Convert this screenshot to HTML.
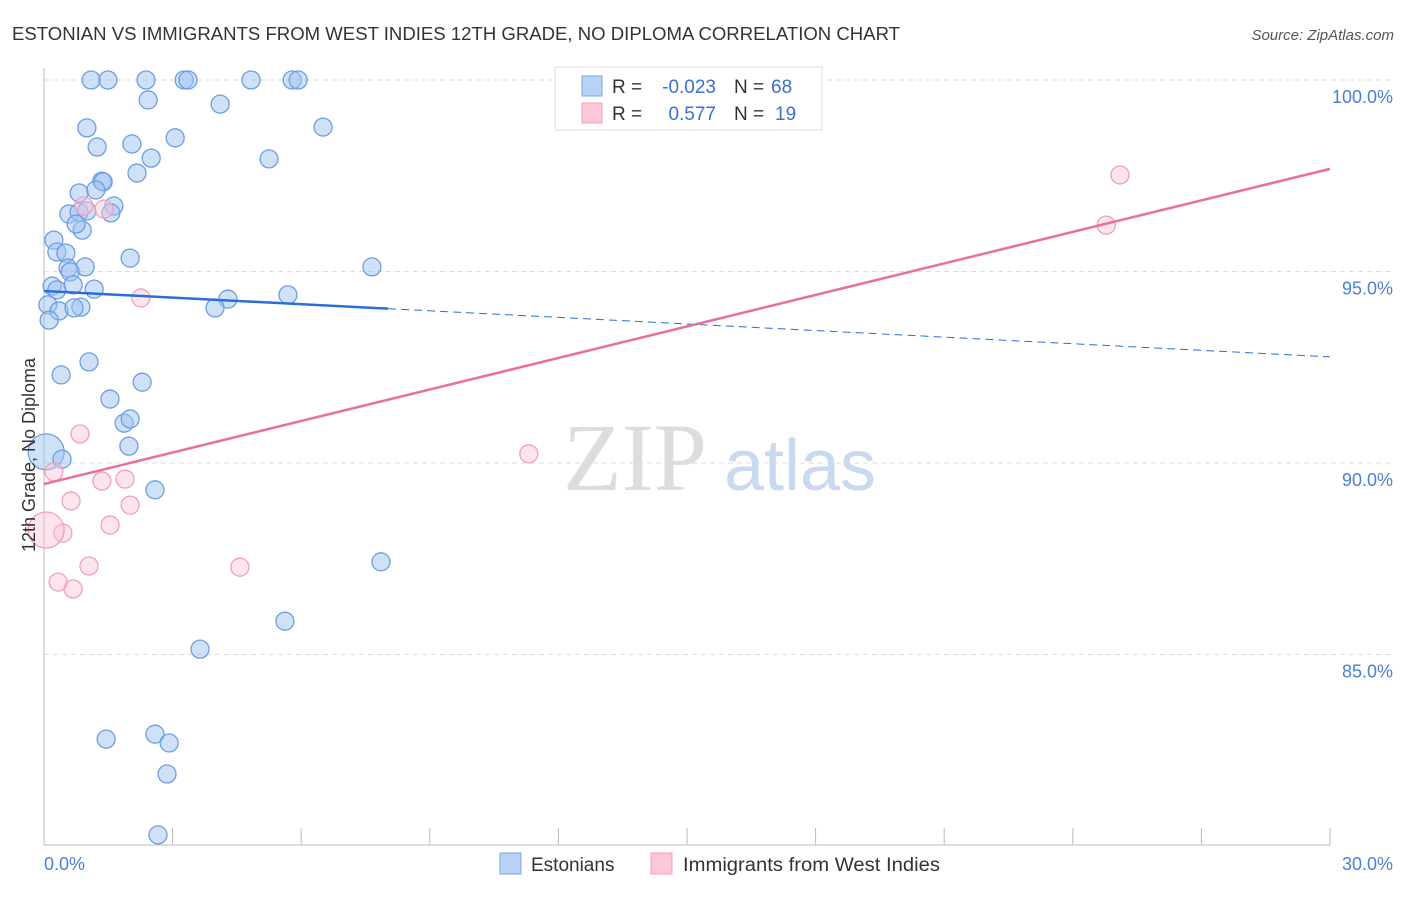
<!DOCTYPE html>
<html><head><meta charset="utf-8"><style>
body{margin:0;background:#fff;font-family:"Liberation Sans",sans-serif}
</style></head><body>
<svg width="1406" height="892" xmlns="http://www.w3.org/2000/svg">
<text x="12" y="40" font-size="18" fill="#333" textLength="888" lengthAdjust="spacingAndGlyphs">ESTONIAN VS IMMIGRANTS FROM WEST INDIES 12TH GRADE, NO DIPLOMA CORRELATION CHART</text>
<text x="1394" y="40" font-size="15" fill="#555" font-style="italic" text-anchor="end">Source: ZipAtlas.com</text>
<g id="grid"></g>
<text x="635" y="490" font-size="96" fill="#ddd" text-anchor="middle" font-family="Liberation Serif,serif">ZIP</text>
<text x="800" y="490" font-size="72" fill="#c8d9f0" text-anchor="middle">atlas</text>
<g id="pts"></g>
<g id="trend"></g>
<text transform="translate(35,455) rotate(-90)" font-size="18" fill="#333" text-anchor="middle">12th Grade, No Diploma</text>
<text x="44" y="870" font-size="18" fill="#4a7fd8">0.0%</text>
<text x="1393" y="870" font-size="18" fill="#4a7fd8" text-anchor="end">30.0%</text>
<g>
<rect x="555" y="67" width="267" height="63" fill="#fff" stroke="#ddd"/>
<rect x="582" y="76" width="20" height="20" fill="#b8d2f5" stroke="#7aa6e6"/>
<rect x="582" y="103" width="20" height="20" fill="#fcc8d8" stroke="#f0a0bb"/>
<text x="612" y="93" font-size="19" fill="#333">R =</text>
<text x="716" y="93" font-size="19" fill="#3a70d0" text-anchor="end">-0.023</text>
<text x="734" y="93" font-size="19" fill="#333">N =</text>
<text x="771" y="93" font-size="19" fill="#3a70d0">68</text>
<text x="612" y="120" font-size="19" fill="#333">R =</text>
<text x="716" y="120" font-size="19" fill="#3a70d0" text-anchor="end">0.577</text>
<text x="734" y="120" font-size="19" fill="#333">N =</text>
<text x="775" y="120" font-size="19" fill="#3a70d0">19</text>
</g>
<g><rect x="500" y="853" width="21" height="21" fill="#b8d2f5" stroke="#7aa6e6"/><text x="531" y="871" font-size="19" fill="#333">Estonians</text></g>
<g><rect x="651" y="853" width="21" height="21" fill="#fcc8d8" stroke="#f0a0bb"/><text x="683" y="871" font-size="19" fill="#333" textLength="257" lengthAdjust="spacingAndGlyphs">Immigrants from West Indies</text></g>
</svg>
<script>
const yTicks=[100,95,90,85];
const blueX=[1.10,1.49,2.38,3.27,3.36,4.83,5.79,5.93,2.43,4.11,1.00,6.51,1.24,2.05,3.06,2.50,5.25,2.17,1.35,1.38,0.82,1.21,1.63,0.58,0.82,1.00,1.56,0.89,0.75,0.23,0.30,0.51,2.01,0.56,0.96,0.61,7.65,0.19,0.30,0.68,1.17,5.69,4.29,3.99,0.09,0.35,0.86,0.70,0.12,1.05,0.40,2.29,1.54,1.87,2.01,1.98,0.05,0.42,2.59,7.86,5.62,3.64,1.45,2.59,2.92,2.87,2.66];
const blueY=[100,100,100,100,100,100,100,100,99.48,99.37,98.75,98.77,98.25,98.33,98.49,97.96,97.94,97.57,97.36,97.34,97.05,97.13,96.71,96.50,96.55,96.58,96.53,96.08,96.24,95.82,95.51,95.48,95.35,95.09,95.12,94.99,95.12,94.62,94.52,94.65,94.54,94.39,94.28,94.05,94.13,93.97,94.07,94.05,93.73,92.64,92.30,92.11,91.67,91.04,91.15,90.44,90.29,90.10,89.30,87.42,85.87,85.14,82.79,82.92,82.69,81.88,80.29];
const pinkX=[0.93,1.40,2.26,0.84,0.23,0.63,1.35,1.89,2.01,1.54,0.44,0.05,0.33,0.68,1.05,4.57,11.31,24.78,25.10];
const pinkY=[96.71,96.63,94.31,90.76,89.77,89.01,89.53,89.58,88.90,88.38,88.17,88.25,86.89,86.71,87.31,87.28,90.24,96.21,97.52];
const blueTrend=[94.49,92.77];
const pinkTrend=[89.45,97.68];
const blueSolidEnd=8.03;
const NS="http://www.w3.org/2000/svg";
const sx=v=>44+v/30*1286;
const sy=v=>80+(100-v)*38.3;
function mk(t,a,p){const e=document.createElementNS(NS,t);for(const k in a)e.setAttribute(k,a[k]);p.appendChild(e);return e;}
const grid=document.getElementById('grid');
yTicks.forEach(t=>{
 const l=mk('line',{x1:44,x2:1393,y1:sy(t),y2:sy(t),stroke:'#ddd','stroke-dasharray':'5,4'},grid);
 
 
 const tx=mk('text',{x:1393,y:sy(t)+23,'font-size':18,fill:'#4a7fd8','text-anchor':'end'},grid);
 tx.textContent=t.toFixed(1)+'%';
 
 
});
const ax=mk('line',{x1:44,x2:44,y1:68,y2:845,stroke:'#bbb'},grid);


const bx=mk('line',{x1:44,x2:1330,y1:845,y2:845,stroke:'#bbb'},grid);


for(let i=0;i<=10;i++){const t=mk('line',{x1:sx(i*3),x2:sx(i*3),y1:828,y2:845,stroke:'#bbb'},grid);
 
 }
const pts=document.getElementById('pts');
blueX.forEach((x,i)=>{const big=(i==56);const c=mk('circle',{cx:sx(x),cy:sy(blueY[i]),r:big?18:9,fill:'rgba(160,195,240,0.5)',stroke:'#6d9ee3','stroke-width':1.3},pts);
 
 });
pinkX.forEach((x,i)=>{const big=(i==11);const c=mk('circle',{cx:sx(x),cy:sy(pinkY[i]),r:big?18:9,fill:'rgba(250,195,215,0.45)',stroke:'#f0a0bb','stroke-width':1.3},pts);
 
 });
const tr=document.getElementById('trend');
const by=x=>blueTrend[0]+(blueTrend[1]-blueTrend[0])*x/30;
const b1=mk('line',{x1:sx(0),y1:sy(by(0)),x2:sx(blueSolidEnd),y2:sy(by(blueSolidEnd)),stroke:'#2a6fd6','stroke-width':2.5},tr);


const b2=mk('line',{x1:sx(blueSolidEnd),y1:sy(by(blueSolidEnd)),x2:sx(30),y2:sy(by(30)),stroke:'#2a6fd6','stroke-width':1,'stroke-dasharray':'8,5'},tr);


const p1=mk('line',{x1:sx(0),y1:sy(pinkTrend[0]),x2:sx(30),y2:sy(pinkTrend[1]),stroke:'#e8709a','stroke-width':2.5},tr);


</script>
</body></html>
